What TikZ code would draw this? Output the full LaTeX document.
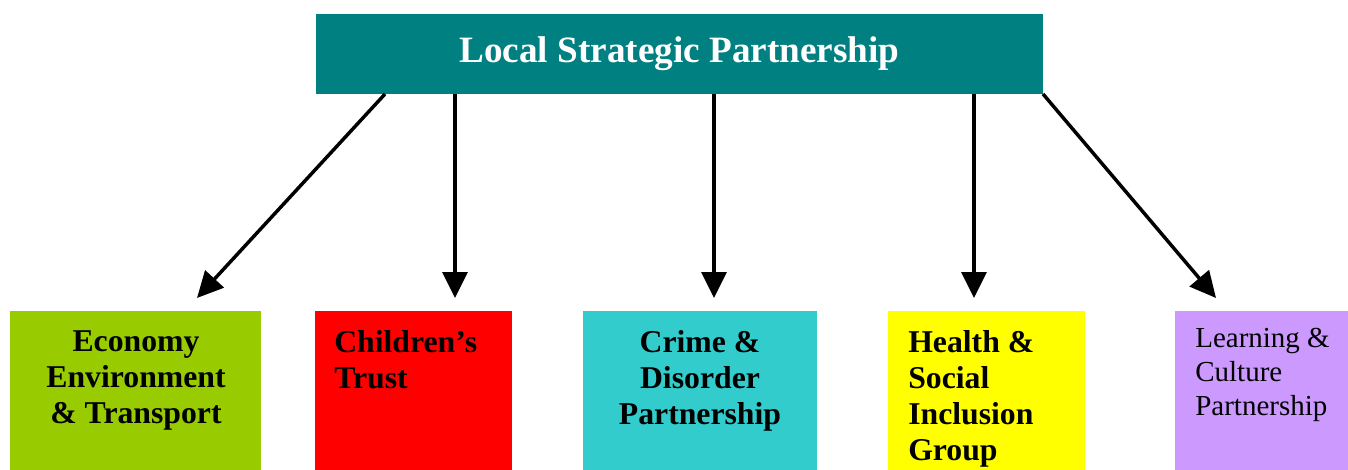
\documentclass[tikz,border=0pt]{standalone}
\usepackage{fontspec}
\setmainfont{Liberation Serif}
\usetikzlibrary{arrows.meta}
\definecolor{lspteal}{HTML}{008080}
\definecolor{ecogreen}{HTML}{99CC00}
\definecolor{trustred}{HTML}{FF0000}
\definecolor{crimecyan}{HTML}{33CCCC}
\definecolor{healthyellow}{HTML}{FFFF00}
\definecolor{learnpurple}{HTML}{CC99FF}
\begin{document}
\begin{tikzpicture}[x=0.75pt,y=-0.75pt,
  panel/.style={draw=none, inner sep=0pt, minimum height=119.25pt},
  lbl/.style={inner sep=0pt, font=\fontsize{23.8}{27}\selectfont\bfseries},
  lblreg/.style={inner sep=0pt, font=\fontsize{21.75}{25.5}\selectfont},
  link/.style={line width=2.6pt, -{Triangle[length=19.5pt,width=18.75pt]}}]
\useasboundingbox (0,0) rectangle (1348,470);
% top box
\node[draw=none, fill=lspteal, inner sep=0pt, minimum width=545.25pt, minimum height=60pt,
      text=white, font=\fontsize{27.9}{32}\selectfont\bfseries] (lsp) at (679.5,54) {Local Strategic Partnership};
% bottom boxes
\node[panel, fill=ecogreen, minimum width=188.25pt] (eco) at (135.5,390.5) {};
\node[panel, fill=trustred, minimum width=147.75pt] (child) at (413.5,390.5) {};
\node[panel, fill=crimecyan, minimum width=175.5pt] (crime) at (700,390.5) {};
\node[panel, fill=healthyellow, minimum width=147.75pt] (health) at (986.5,390.5) {};
\node[panel, fill=learnpurple, minimum width=129.75pt] (learn) at (1261.5,390.5) {};
% labels
\node[lbl, anchor=north, align=center] (ecot) at (136,330) {Economy\\Environment\\\& Transport};
\node[lbl, anchor=north west, align=left] (childt) at (334,330) {Children’s\\Trust};
\node[lbl, anchor=north, align=center] (crimet) at (700,330) {Crime \&\\Disorder\\Partnership};
\node[lbl, anchor=north west, align=left] (healtht) at (908,330) {Health \&\\Social\\Inclusion\\Group};
\node[lblreg, anchor=north west, align=left] (learnt) at (1195,328) {Learning \&\\Culture\\Partnership};
% connector ends
\coordinate (s1) at (385,94);
\coordinate (s2) at (455,94);
\coordinate (s3) at (714,94);
\coordinate (s4) at (974,94);
\coordinate (s5) at (1043,94);
\coordinate (e1) at (197,298);
\coordinate (e2) at (455,298);
\coordinate (e3) at (714,298);
\coordinate (e4) at (974,298);
\coordinate (e5) at (1216,298);
\draw[link] (s1) -- (e1);
\draw[link] (s2) -- (e2);
\draw[link] (s3) -- (e3);
\draw[link] (s4) -- (e4);
\draw[link] (s5) -- (e5);
\end{tikzpicture}
\end{document}
